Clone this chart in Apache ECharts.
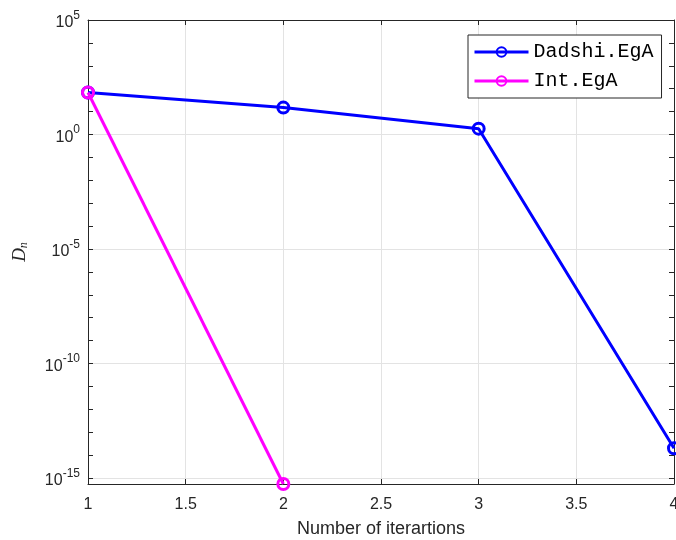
<!DOCTYPE html>
<html>
<head>
<meta charset="utf-8">
<script src="https://cdn.jsdelivr.net/npm/echarts@6/dist/echarts.min.js"></script>
<style>
  html, body { margin: 0; padding: 0; background: #fff; overflow: hidden; }
  #chart { width: 676px; height: 540px; }
</style>
</head>
<body>
<div id="chart"></div>
<script>
// Convergence of D_n over the iterations, two methods
const iterations = [1, 2, 3, 4];
const dadshiEgA = [68, 15, 1.8, 2e-14];
const intEgA = [68, 5.5e-16];

const seriesNames = ['Dadshi.EgA', 'Int.EgA'];
const seriesColors = ['#0000ff', '#ff00ff'];

// log-axis extent and tick positions (as powers of ten)
const yMin = 5.5e-16;
const yMax = 1e5;
const decadeTicks = [];
for (let e = -15; e <= 5; e++) decadeTicks.push(Math.pow(10, e));
const labelTicks = [1e-15, 1e-10, 1e-5, 1, 1e5];

const axisColor = '#262626';
const gridColor = '#e3e3e3';
const sansFont = 'Liberation Sans';

function powLabel(v) {
  const e = Math.round(Math.log10(v));
  return '{b|10}{s|' + e + '}';
}

function pairs(ys) {
  return ys.map((y, i) => [iterations[i], y]);
}

const chart = echarts.init(document.getElementById('chart'), null, { renderer: 'canvas', width: 676, height: 540 });

const baseY = {
  type: 'log',
  logBase: 10,
  min: yMin,
  max: yMax,
  gridIndex: 0
};

const hollow = 'rgba(255,255,255,0)';

chart.setOption({
  animation: false,
  backgroundColor: '#ffffff',
  grid: { left: 88, right: 2, top: 20, bottom: 56, containLabel: false, outerBoundsMode: 'none' },
  legend: {
    orient: 'vertical',
    left: 468,
    top: 35,
    data: seriesNames,
    itemWidth: 54,
    itemHeight: 12,
    itemGap: 9,
    padding: [7, 8, 7, 5],
    borderColor: axisColor,
    borderWidth: 1,
    backgroundColor: '#ffffff',
    lineStyle: { width: 3 },
    textStyle: { fontFamily: 'Liberation Mono', fontSize: 20, color: '#000' }
  },
  xAxis: [
    {
      type: 'value', min: 1, max: 4, interval: 0.5, position: 'bottom',
      name: 'Number of iterartions', nameLocation: 'middle', nameGap: 36,
      nameTextStyle: { fontFamily: sansFont, fontSize: 18, color: axisColor },
      axisLine: { show: true, onZero: false, lineStyle: { color: axisColor, width: 1 } },
      axisTick: { show: true, inside: true, length: 5, lineStyle: { color: axisColor } },
      axisLabel: {
        fontFamily: sansFont, fontSize: 16, color: axisColor, margin: 13,
        formatter: v => String(v)
      },
      splitLine: { show: true, lineStyle: { color: gridColor, width: 1 } }
    },
    {
      type: 'value', min: 1, max: 4, interval: 0.5, position: 'top',
      axisLine: { show: true, onZero: false, lineStyle: { color: axisColor, width: 1 } },
      axisTick: { show: true, inside: true, length: 5, lineStyle: { color: axisColor } },
      axisLabel: { show: false },
      splitLine: { show: false }
    }
  ],
  yAxis: [
    Object.assign({}, baseY, {
      position: 'left',
      name: '{d|D}{n|n}', nameLocation: 'middle', nameGap: 58, nameRotate: 90,
      nameTextStyle: {
        rich: {
          d: { fontFamily: 'Liberation Serif', fontStyle: 'italic', fontSize: 19, color: axisColor },
          n: { fontFamily: 'Liberation Serif', fontStyle: 'italic', fontSize: 12, color: axisColor, padding: [9, 0, 0, 0] }
        }
      },
      axisLine: { show: true, onZero: false, lineStyle: { color: axisColor, width: 1 } },
      axisTick: { show: true, inside: true, length: 5, customValues: decadeTicks, lineStyle: { color: axisColor } },
      axisLabel: {
        show: true, margin: 8, customValues: labelTicks,
        formatter: powLabel,
        rich: {
          b: { fontFamily: sansFont, fontSize: 16, color: axisColor, padding: [6, 0, 0, 0] },
          s: { fontFamily: sansFont, fontSize: 12, color: axisColor, padding: [0, 0, 9, 0] }
        }
      },
      splitLine: { show: false }
    }),
    Object.assign({}, baseY, {
      position: 'right',
      axisLine: { show: true, onZero: false, lineStyle: { color: axisColor, width: 1 } },
      axisTick: { show: true, inside: true, length: 5, customValues: decadeTicks, lineStyle: { color: axisColor } },
      axisLabel: { show: false },
      splitLine: { show: false }
    }),
    Object.assign({}, baseY, {
      position: 'left',
      axisLine: { show: false },
      axisTick: { show: false, customValues: labelTicks },
      axisLabel: { show: false, customValues: labelTicks },
      splitLine: { show: true, lineStyle: { color: gridColor, width: 1 } }
    })
  ],
  series: [
    {
      name: seriesNames[0], type: 'line', xAxisIndex: 0, yAxisIndex: 0,
      data: pairs(dadshiEgA),
      clip: false, z: 3,
      symbol: 'circle', symbolSize: 11,
      lineStyle: { color: seriesColors[0], width: 3 },
      itemStyle: { color: hollow, borderColor: seriesColors[0], borderWidth: 3 }
    },
    {
      name: seriesNames[1], type: 'line', xAxisIndex: 0, yAxisIndex: 0,
      data: pairs(intEgA),
      clip: false, z: 4,
      symbol: 'circle', symbolSize: 11,
      lineStyle: { color: seriesColors[1], width: 3 },
      itemStyle: { color: hollow, borderColor: seriesColors[1], borderWidth: 3 }
    }
  ]
});
</script>
</body>
</html>
